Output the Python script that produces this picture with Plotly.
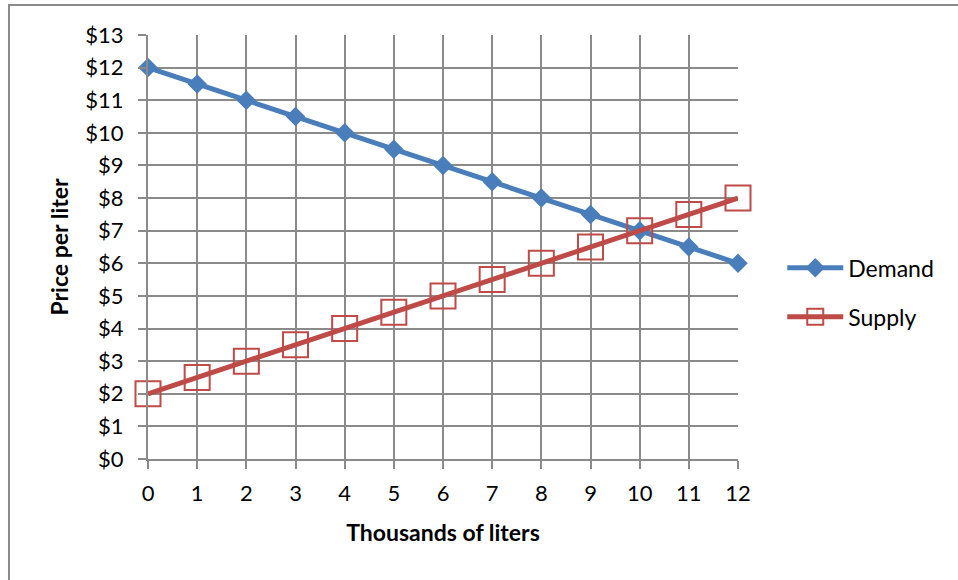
import plotly.graph_objects as go

quantity = [0, 1, 2, 3, 4, 5, 6, 7, 8, 9, 10, 11, 12]
demand = [12, 11.5, 11, 10.5, 10, 9.5, 9, 8.5, 8, 7.5, 7, 6.5, 6]
supply = [2, 2.5, 3, 3.5, 4, 4.5, 5, 5.5, 6, 6.5, 7, 7.5, 8]
y_ticks = list(range(0, 14))
y_labels = ["$" + str(v) for v in y_ticks]

FONT = "Lato"
GRID = "#8a8a8a"

fig = go.Figure()
fig.add_trace(go.Scatter(
    x=quantity, y=demand, name="Demand", mode="lines+markers",
    line=dict(color="#4A7EBB", width=5),
    marker=dict(symbol="diamond", size=15, color="#4A7EBB"),
    cliponaxis=False, legendgroup="d",
))
fig.add_trace(go.Scatter(
    x=quantity, y=supply, name="Supply", mode="lines+markers",
    line=dict(color="#BE4B48", width=5),
    marker=dict(symbol="square-open", size=25, color="#BE4B48", line=dict(width=2)),
    cliponaxis=False, legendgroup="s",
))

fig.update_layout(
    width=958, height=580,
    margin=dict(l=148, r=220, t=35, b=121),
    paper_bgcolor="white", plot_bgcolor="white",
    font=dict(family=FONT, size=22, color="black"),
    showlegend=True,
    legend=dict(x=1.075, y=0.393, xanchor="left", yanchor="middle",
                font=dict(size=23), itemwidth=56, tracegroupgap=16,
                bgcolor="rgba(0,0,0,0)"),
    xaxis=dict(
        range=[0, 12], tickvals=quantity, ticktext=[str(v) for v in quantity],
        showgrid=True, gridcolor=GRID, gridwidth=2,
        showline=True, linecolor=GRID, linewidth=2,
        ticks="outside", ticklen=8, tickwidth=2, tickcolor=GRID,
        ticklabelstandoff=6, zeroline=False,
        title=dict(text="<b>Thousands of liters</b>", font=dict(size=23), standoff=19),
    ),
    yaxis=dict(
        range=[0, 13], tickvals=y_ticks, ticktext=y_labels,
        showgrid=True, gridcolor=GRID, gridwidth=2,
        showline=True, linecolor=GRID, linewidth=2,
        ticks="outside", ticklen=8, tickwidth=2, tickcolor=GRID,
        ticklabelstandoff=10, zeroline=False,
        title=dict(text="<b>Price per liter</b>", font=dict(size=23), standoff=10),
    ),
    shapes=[dict(type="rect", xref="paper", yref="paper",
                 x0=-0.2356, x1=1.6, y0=-0.5, y1=1.0708,
                 line=dict(color="#8a8a8a", width=2), layer="below")],
)

fig.write_html("out.html", config={"displayModeBar": False},
               post_script="document.body.style.margin='0';document.body.style.overflow='hidden';")
